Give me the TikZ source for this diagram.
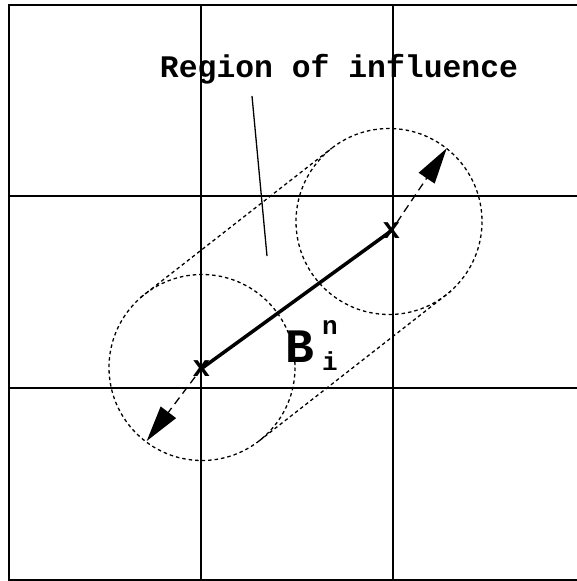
\documentclass[tikz,border=0pt]{standalone}
\usepackage{fontspec}
\setmonofont{Liberation Mono}
\usetikzlibrary{arrows.meta,calc}

\begin{document}
\begin{tikzpicture}[x=1pt,y=-1pt,
  every node/.style={font=\ttfamily\bfseries,inner sep=0pt},
  gridline/.style={line width=2pt},
  dotline/.style={line width=1.3pt,dash pattern=on 3.5pt off 3pt},
  xmark/.style={font=\fontsize{30}{30}\selectfont\ttfamily\bfseries},
  radarrow/.style={line width=1.3pt,dash pattern=on 8pt off 5pt,-{Triangle[length=36pt,width=19pt]}}]
  \useasboundingbox (0,0) rectangle (577,581);
  \draw[gridline] (8.5,4.5) rectangle (579,579.5);
  \foreach \x in {201,393}{\draw[gridline] (\x,4.5)--(\x,579.5);}
  \foreach \y in {195.5,387.5}{\draw[gridline] (8.5,\y)--(579,\y);}
  % two circles and their common tangents
  \coordinate (C1) at (202,367.5); \coordinate (C2) at (389,221.5);
  \draw[dotline] (C1) circle[radius=93]; \draw[dotline] (C2) circle[radius=93];
  \draw[dotline,shorten <=-5pt] ($(C1)!93pt!90:(C2)$) -- ($(C2)!93pt!-90:(C1)$);
  \draw[dotline,shorten >=-6pt] ($(C1)!93pt!-90:(C2)$) -- ($(C2)!93pt!90:(C1)$);
  \node[xmark] (ptA) at (201.3,368.7){x};
  \node[xmark] (ptB) at (391.3,230.8){x};
  \draw[line width=3.5pt] (ptA.center) -- (ptB.center);
  \coordinate (tipA) at (146.7,441); \coordinate (tipB) at (446.7,148.3);
  \draw[radarrow] (ptA) -- (tipA); \draw[radarrow] (ptB) -- (tipB);
  \node[font=\fontsize{31.4}{32}\selectfont\ttfamily\bfseries,anchor=base] (roilabel) at (339,77){Region of influence};
  \coordinate (leadtop) at (252,96); \coordinate (leadend) at (267,256);
  \draw[line width=1.3pt] (leadtop) -- (leadend);
  \node[anchor=base west] (Bni) at (285,362){\fontsize{48}{48}\selectfont B\hspace{8pt}\rlap{\raisebox{28pt}{\fontsize{26}{26}\selectfont n}}\raisebox{-8pt}{\fontsize{26}{26}\selectfont i}};
\end{tikzpicture}
\end{document}
